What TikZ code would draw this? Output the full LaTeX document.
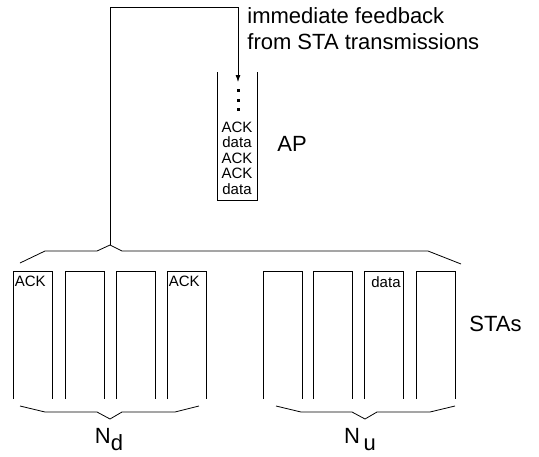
\documentclass[tikz,border=0pt]{standalone}
\usepackage{fontspec}
\setmainfont{Liberation Sans}
\usepackage{tikz}
\usetikzlibrary{arrows.meta,calc}

\begin{document}
\begin{tikzpicture}[x=1pt,y=-1pt,line width=0.8pt,
    biglabel/.style={font=\fontsize{22}{26}\selectfont,inner sep=0pt},
    pktlabel/.style={font=\fontsize{15}{15.5}\selectfont,inner sep=0pt}]
        \useasboundingbox (0,0) rectangle (539,456);
        % Draw the AP queue (open at the top)
        \draw (217,72) |- (257,200) -- (257,72);
        \coordinate (qtop) at (238,82);
        \node[pktlabel,anchor=base] (q1) at (237,132) {ACK};
        \foreach \lbl [count=\i] in {data,ACK,ACK,data}
            \node[pktlabel,anchor=base] (q\the\numexpr\i+1\relax) at (237,{132+15.5*\i}) {\lbl};
        \foreach \y in {90,100,109} \fill (236.5,\y-1.5) rectangle (239.5,\y+1.5);
        \node[biglabel,anchor=base west] (ap) at (277,151) {AP};
        % Draw the STA queues (open at the bottom)
        \foreach \x [count=\i] in {13,65,116,167,263,313,364,416}
            \draw (\x,399) -- (\x,271) coordinate (s\i) -- (\x+39,271) -- (\x+39,399);
        \node[pktlabel,anchor=north west] (a1) at ($(s1)+(1.5,5)$) {ACK};
        \node[pktlabel,anchor=north west] (a4) at ($(s4)+(1.5,5)$) {ACK};
        \node[pktlabel,anchor=north west] (a7) at ($(s7)+(7,5)$) {data};
        \node[biglabel,anchor=base west] (stas) at (469,331) {STAs};
        % Braces
        \coordinate (tipTop) at (110,245);
        \draw (20,263) -- (45,251) -- (97,251) -- (tipTop) -- (122,251) -- (428,251) -- (461,264);
        \draw (20,406) -- (45,412) -- (97,412) -- (110,419) coordinate (tipD) -- (122,412) -- (175,412) -- (199,406);
        \draw (276,406) -- (301,412) -- (352,412) -- (365,419) coordinate (tipU) -- (377,412) -- (430,412) -- (455,406);
        \node[biglabel,anchor=base] (nd) at (109,443) {N\raisebox{-7pt}{d}};
        \node[biglabel,anchor=base] (nu) at (360,443) {N\,\raisebox{-7pt}{u}};
        % Feedback from the STAs to the AP
        \draw[-{Latex[length=7pt,width=5pt]}] (tipTop) |- (238,7) -- (qtop);
        \node[biglabel,anchor=base west] (fb) at (247,23) {immediate feedback};
        \node[biglabel,anchor=base west] (fb2) at (247,49) {from STA transmissions};
\end{tikzpicture}
\end{document}
